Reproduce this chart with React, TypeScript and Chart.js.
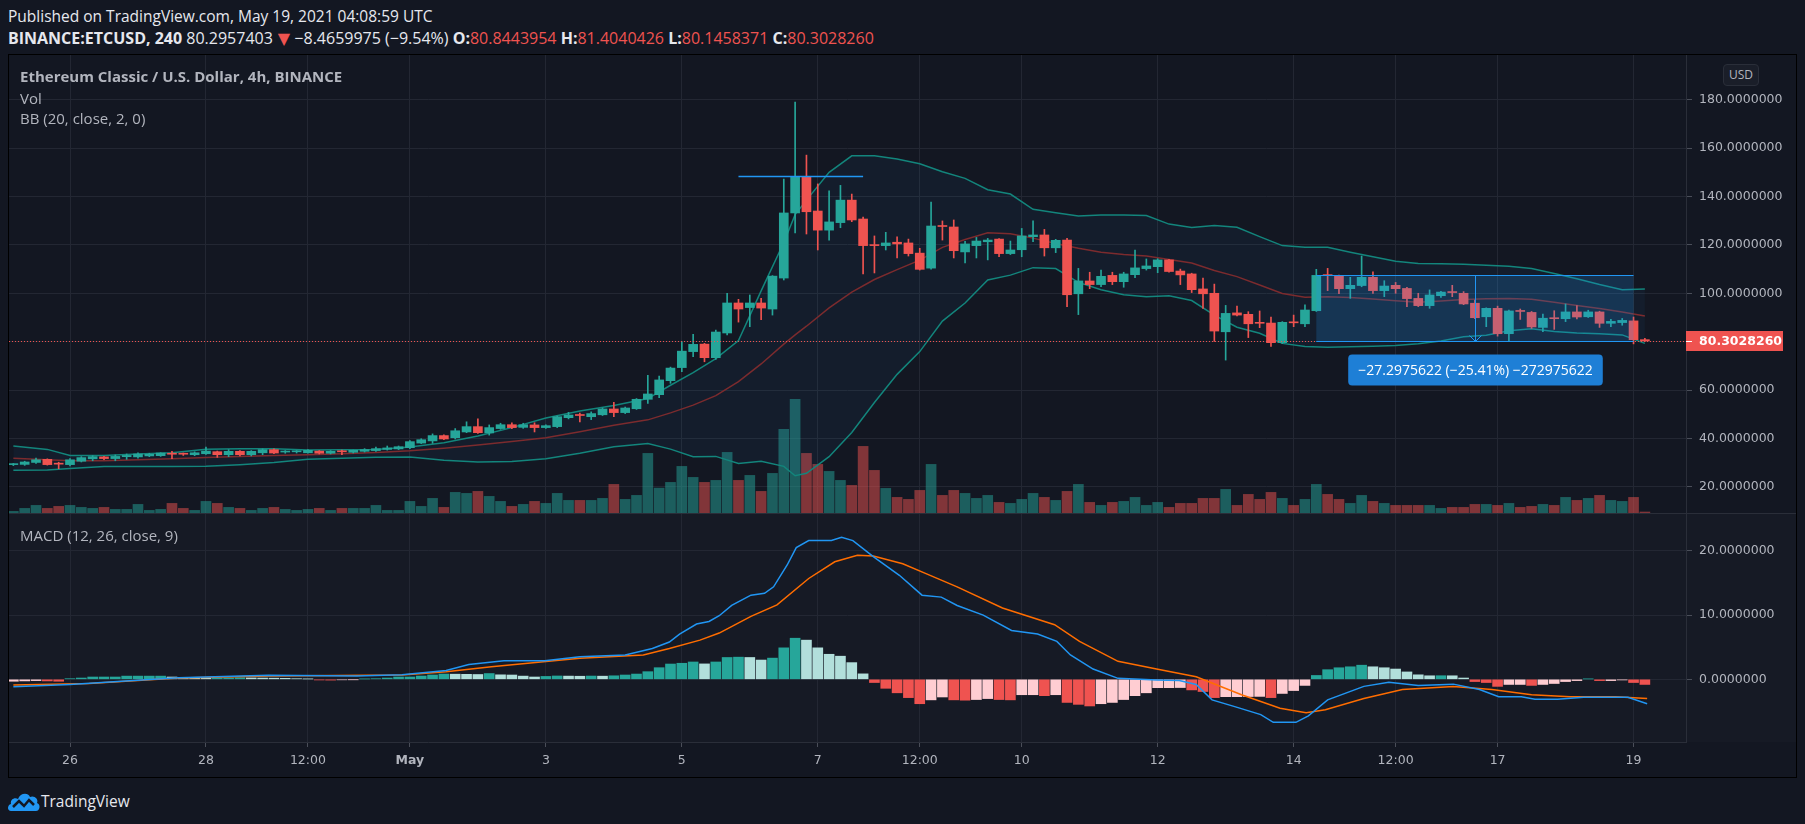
import React, { useEffect, useRef } from 'react';
import { Chart, registerables } from 'chart.js';

Chart.register(...registerables);

const FONT = "'DejaVu Sans', sans-serif";
const UI_FONT = "'Open Sans', 'DejaVu Sans', sans-serif";
const BG = '#131722';
const GRID = '#232733';
const AXIS_LINE = '#2a2e39';
const AXIS_TEXT = '#b2b5be';
const UP = '#26a69a';
const DOWN = '#ef5350';

// ---- 4h candles, BINANCE:ETCUSD, from Apr 25 04:00 to May 19 04:00 (UTC) ----
const opens = [
  29.2, 29.3, 30.1, 31.4, 29.5, 29.2, 30.6, 31.6, 32.4, 31.7,
  32.5, 32.4, 32.8, 32.9, 33.7, 33.7, 33.3, 33.7, 34.55, 33.3,
  34.7, 33.3, 34.1, 35.4, 34.4, 34.5, 34.1, 34.8, 33.9, 34.6,
  34.3, 34.7, 35.0, 35.5, 35.7, 36.2, 38.1, 39.0, 41.2, 40.3,
  42.7, 44.9, 42.3, 44.1, 45.7, 44.6, 45.6, 44.5, 44.9, 48.6,
  49.8, 49.0, 49.8, 52.2, 50.7, 52.3, 56.2, 58.1, 63.9, 69.3,
  75.9, 79.0, 73.4, 83.6, 96.0, 94.1, 96.0, 93.5, 106.3, 133.2,
  148.3, 134.0, 126.1, 129.2, 138.5, 130.7, 119.9, 119.7, 121.1, 120.8,
  116.6, 110.4, 127.8, 127.4, 117.1, 119.7, 121.3, 122.4, 116.4, 118.0,
  123.4, 124.1, 118.8, 122.0, 99.8, 105.1, 103.6, 107.4, 104.8, 107.7,
  110.2, 111.0, 113.8, 109.2, 108.0, 101.8, 100.0, 84.1, 91.9, 91.3,
  87.7, 87.7, 79.6, 87.9, 87.4, 92.8, 107.5, 107.1, 101.9, 103.2,
  106.6, 101.1, 103.3, 102.0, 97.9, 94.9, 99.0, 100.5, 100.0, 95.9,
  90.3, 93.8, 83.3, 92.8, 92.1, 85.9, 89.7, 89.5, 92.3, 90.3,
  92.3, 87.6, 87.9, 88.6, 80.8443954,
];
const highs = [
  29.7, 30.6, 31.9, 31.6, 30.2, 31.7, 32.5, 32.9, 32.6, 33.2,
  33.6, 34.1, 33.9, 34.1, 34.7, 34.0, 34.5, 36.5, 34.8, 35.4,
  35.0, 35.0, 35.7, 35.7, 35.0, 35.0, 35.4, 35.0, 35.0, 35.2,
  35.2, 35.8, 36.5, 36.9, 36.9, 39.1, 39.9, 41.9, 41.5, 44.1,
  46.9, 48.1, 45.6, 46.3, 46.5, 46.3, 46.5, 45.6, 49.3, 50.8,
  50.5, 51.0, 52.6, 54.9, 53.0, 56.5, 66.1, 65.8, 69.5, 80.0,
  83.0, 79.3, 84.8, 100.0, 97.5, 99.3, 97.9, 107.3, 147.2, 179.0,
  157.1, 145.2, 142.3, 144.6, 141.0, 131.5, 123.7, 125.2, 123.3, 122.4,
  118.6, 137.7, 129.9, 130.3, 121.5, 123.1, 122.7, 122.6, 121.6, 126.8,
  129.9, 126.4, 122.3, 122.7, 110.3, 108.7, 109.6, 108.7, 108.7, 117.9,
  114.2, 114.3, 114.0, 110.0, 108.3, 106.3, 103.8, 95.0, 94.7, 92.4,
  92.7, 90.2, 88.3, 91.0, 95.2, 109.9, 110.3, 107.5, 106.6, 115.4,
  108.9, 105.2, 104.5, 102.5, 100.0, 101.4, 100.8, 103.3, 100.7, 97.2,
  94.0, 94.7, 93.1, 93.5, 92.5, 91.4, 92.8, 95.6, 94.9, 93.0,
  92.6, 89.2, 89.6, 90.2, 81.4040426,
];
const lows = [
  28.8, 28.9, 29.7, 29.0, 27.5, 28.7, 30.3, 30.8, 31.2, 30.8,
  31.4, 31.9, 32.5, 32.6, 31.7, 33.0, 32.9, 33.45, 32.2, 32.5,
  32.8, 32.8, 33.3, 33.7, 33.9, 34.0, 33.9, 33.6, 33.6, 33.3,
  34.0, 34.4, 34.7, 35.2, 35.4, 35.8, 37.9, 38.0, 39.5, 39.8,
  42.4, 42.1, 41.4, 43.8, 44.1, 44.2, 42.7, 44.2, 44.5, 48.1,
  46.9, 47.8, 49.5, 49.0, 50.3, 52.0, 54.5, 56.9, 62.8, 67.6,
  73.8, 71.7, 72.7, 82.8, 88.1, 86.2, 89.1, 91.0, 105.5, 124.9,
  124.5, 117.9, 122.0, 127.1, 129.6, 108.0, 108.4, 117.9, 114.6, 115.4,
  109.6, 110.0, 122.0, 114.6, 112.6, 114.6, 113.8, 115.1, 116.0, 115.1,
  121.3, 115.4, 116.8, 94.5, 91.2, 101.9, 102.7, 103.6, 102.5, 106.5,
  109.6, 108.5, 108.7, 103.6, 100.3, 93.8, 80.1, 72.4, 90.7, 81.7,
  85.8, 78.0, 79.2, 86.2, 86.2, 92.5, 101.1, 99.8, 97.9, 102.7,
  100.0, 98.6, 100.0, 94.5, 94.5, 93.8, 98.3, 98.6, 95.3, 89.5,
  86.2, 82.3, 80.3, 89.2, 85.5, 84.1, 85.1, 88.3, 89.4, 90.0,
  85.9, 86.2, 86.8, 79.1, 80.1458371,
];
const closes = [
  29.4, 30.3, 31.2, 29.2, 29.4, 31.2, 32.1, 32.5, 31.7, 32.6,
  33.0, 33.6, 33.5, 34.0, 33.5, 33.5, 34.1, 34.8, 33.3, 34.7,
  33.3, 34.7, 35.4, 34.0, 34.7, 34.6, 35.1, 33.9, 34.7, 34.5,
  35.1, 35.4, 35.8, 36.1, 36.6, 38.7, 39.5, 41.2, 39.8, 43.2,
  44.9, 42.4, 44.5, 45.7, 44.5, 45.7, 44.5, 45.3, 49.0, 49.7,
  49.5, 50.3, 52.2, 50.7, 52.6, 56.2, 58.4, 64.2, 69.1, 76.1,
  78.9, 73.4, 84.0, 96.0, 93.5, 96.0, 93.9, 107.1, 133.2, 148.3,
  133.7, 126.1, 129.5, 138.5, 130.3, 119.7, 119.7, 120.8, 120.4, 116.4,
  109.9, 127.8, 127.6, 117.6, 120.4, 121.6, 122.0, 116.4, 117.9, 123.7,
  124.1, 118.8, 121.9, 99.4, 105.1, 103.6, 107.0, 104.8, 108.0, 110.5,
  111.3, 113.8, 109.0, 107.6, 101.5, 99.8, 84.4, 91.7, 91.0, 87.4,
  87.6, 79.6, 88.0, 87.8, 93.1, 107.4, 107.3, 101.9, 103.3, 106.6,
  101.1, 103.0, 101.9, 97.8, 94.9, 99.3, 100.5, 100.3, 95.6, 89.9,
  93.8, 83.3, 92.7, 92.5, 86.1, 89.7, 89.5, 92.3, 90.2, 92.3,
  87.6, 88.4, 88.8, 80.84, 80.302826,
];
// volume, thousand ETC
const volumes = [
  2.6, 5.6, 8.6, 5.6, 7.6, 8.6, 6.6, 5.6, 6.6, 4.6,
  4.6, 9.6, 3.6, 4.6, 10.6, 5.6, 3.6, 12.6, 10.6, 6.6,
  5.6, 3.6, 5.6, 6.6, 4.6, 3.6, 4.6, 5.6, 3.6, 5.6,
  5.6, 5.6, 8.6, 3.6, 3.6, 12.6, 7.6, 15.6, 6.6, 21.6,
  20.6, 22.6, 17.6, 12.6, 7.6, 9.6, 12.6, 10.6, 20.6, 13.6,
  13.6, 13.6, 15.6, 29.6, 14.6, 18.6, 60.6, 25.9, 31.6, 47.6,
  36.6, 31.6, 33.6, 61.6, 33.6, 38.6, 22.6, 40.6, 84.6, 114.6,
  60.6, 49.6, 42.6, 33.6, 28.6, 67.6, 43.6, 25.6, 16.6, 14.6,
  23.6, 49.6, 18.6, 23.6, 20.6, 15.6, 18.6, 11.6, 10.6, 14.6,
  20.6, 16.6, 13.6, 22.6, 29.6, 11.6, 8.6, 11.6, 12.6, 16.6,
  8.6, 11.6, 6.6, 10.6, 10.6, 15.6, 15.6, 24.6, 8.6, 19.6,
  14.6, 21.6, 15.6, 8.6, 14.6, 29.6, 19.6, 14.6, 10.6, 18.6,
  12.6, 10.6, 8.6, 8.6, 8.6, 8.6, 5.6, 6.6, 6.6, 9.6,
  9.6, 8.6, 10.6, 6.6, 7.6, 9.6, 8.6, 16.6, 13.6, 15.6,
  18.6, 13.6, 12.6, 16.6, 2.0,
];

// ---- Bollinger Bands (20, close, 2) at these candle indices ----
const bbIdx = [
  0, 3, 5, 8, 11, 14, 17, 20, 23, 26, 29, 32, 35, 38, 41, 44, 47, 50, 53, 56,
  58, 60, 62, 64, 66, 68, 69, 70, 72, 74, 76, 78, 80, 82, 84, 86, 88, 90, 92, 94,
  96, 98, 100, 102, 104, 106, 108, 110, 112, 114, 116, 118, 120, 122, 124, 126, 128, 130, 132, 134,
  136, 138, 140, 142, 144,
];
const bbUpper = [
  36.9, 35.5, 33.0, 33.0, 33.6, 34.1, 35.6, 35.8, 35.8, 35.2, 35.3, 35.5, 36.5, 38.2, 41.0, 44.5, 48.5, 51.4, 53.6, 56.5,
  62.0, 67.2, 73.0, 80.5, 101.0, 121.0, 132.5, 138.5, 150.0, 156.8, 156.8, 155.5, 153.5, 150.2, 147.5, 142.8, 141.0, 134.7, 133.3, 131.9,
  132.4, 132.4, 132.1, 128.6, 127.2, 128.0, 127.3, 123.4, 119.7, 119.0, 119.0, 117.0, 115.1, 113.2, 112.3, 112.2, 112.0, 111.6, 111.2, 110.2,
  108.2, 106.0, 103.6, 101.5, 101.8,
];
const bbBasis = [
  31.8, 31.2, 30.8, 30.8, 31.2, 31.6, 32.1, 32.6, 33.0, 33.3, 33.7, 34.2, 34.9, 36.0, 37.3, 38.8, 40.3, 42.8, 45.5, 47.7,
  50.6, 53.8, 57.7, 63.5, 70.8, 79.0, 82.8, 86.4, 94.0, 100.5, 105.7, 109.8, 113.7, 119.0, 122.2, 125.0, 124.6, 122.8, 120.6, 118.6,
  117.0, 116.0, 115.4, 114.0, 112.5, 109.4, 106.9, 103.4, 99.9, 98.4, 98.6, 98.3, 97.6, 96.9, 96.3, 96.8, 97.4, 97.7, 97.9, 97.5,
  96.3, 95.0, 93.7, 92.3, 90.6,
];
const bbLower = [
  26.9, 27.0, 27.6, 28.4, 28.4, 28.4, 28.5, 29.2, 30.1, 31.4, 31.8, 32.2, 32.4, 31.0, 30.3, 30.5, 31.6, 33.9, 36.6, 37.9,
  35.6, 32.5, 32.6, 29.7, 30.6, 28.5, 24.6, 25.6, 32.5, 42.5, 54.9, 66.5, 75.9, 88.5, 96.0, 105.5, 107.5, 110.6, 110.2, 104.5,
  101.5, 99.4, 98.6, 99.0, 97.0, 91.0, 86.0, 83.5, 79.3, 78.0, 77.7, 77.9, 78.1, 78.4, 79.2, 80.3, 82.0, 82.7, 84.5, 85.3,
  84.2, 83.6, 83.3, 82.8, 79.3,
];

// ---- MACD (12, 26, close, 9) ----
const macdIdx = [
  0, 5, 10.6, 14.6, 22.5, 30.3, 34.3, 38.2, 40.2, 43.3, 46.9, 50, 54, 56.4, 57.9, 58.8, 60.3, 61.4, 62.3, 63.4,
  65.1, 66.3, 67.1, 68.3, 69.1, 70.2, 72.2, 73.1, 74.1, 75.9, 78.2, 80.2, 81.9, 83.3, 85.6, 88.1, 90.4, 92.1, 93.3, 95.3,
  97.5, 100.9, 102.9, 104.4, 105.8, 107.8, 110.1, 111.2, 113.2, 114.3, 116, 119.2, 121.4, 124, 127.1, 129.4, 131.1, 133.1, 134.3, 136.3,
  138.6, 142.5, 144.2,
];
const macdVal = [
  -1.15, -0.8, -0.2, 0.26, 0.62, 0.52, 0.73, 1.39, 2.3, 2.9, 2.9, 3.5, 3.8, 4.8, 5.8, 7.05, 8.6, 9.0, 9.9, 11.5,
  13.1, 13.4, 14.4, 17.8, 20.5, 21.6, 21.6, 22.1, 21.6, 19.1, 16.2, 13.1, 12.8, 11.5, 10.0, 7.6, 7.05, 5.9, 3.8, 1.6,
  0.15, -0.1, -0.2, -0.8, -3.2, -4.25, -5.5, -6.7, -6.7, -5.7, -3.2, -1.1, -0.45, -0.95, -0.75, -1.6, -2.7, -2.7, -3.1, -3.1,
  -2.8, -2.8, -3.8,
];
const signalIdx = [
  0, 6.7, 14.6, 22.5, 34.3, 38.2, 42.2, 50, 55.6, 57.9, 60.6, 62.3, 65.1, 67.4, 70.2, 72.5, 74.5, 75.9, 78.5, 80.5,
  83.3, 87.3, 91.9, 94.1, 97.5, 100.9, 104.4, 108.4, 111.8, 114.1, 115.8, 119.2, 122.6, 127.1, 130.5, 134, 137.4, 141.4, 144.2,
];
const signalVal = [
  -0.9, -0.65, 0.2, 0.5, 0.68, 1.18, 1.97, 3.27, 3.8, 4.8, 6.1, 7.2, 9.8, 11.6, 15.7, 18.3, 19.3, 19.2, 18.0, 16.5,
  14.4, 11.1, 8.5, 5.9, 2.8, 1.6, 0.4, -2.4, -4.5, -5.2, -4.75, -3.0, -1.6, -1.1, -1.6, -2.4, -2.7, -2.7, -3.0,
];
const histogram = [
  -0.3, -0.25, -0.2, -0.25, -0.3, 0.1, 0.2, 0.36, 0.36, 0.36,
  0.5, 0.5, 0.5, 0.5, 0.36, 0.3, 0.25, 0.2, 0.2, 0.22,
  0.25, 0.22, 0.2, 0.18, 0.15, 0.1, 0.05, -0.1, -0.12, -0.08,
  -0.05, 0.05, 0.1, 0.2, 0.36, 0.36, 0.51, 0.67, 0.82, 0.8,
  0.78, 0.75, 0.9, 0.7, 0.67, 0.5, 0.36, 0.45, 0.52, 0.5,
  0.48, 0.51, 0.49, 0.55, 0.67, 0.82, 1.19, 1.81, 2.38, 2.5,
  2.7, 2.4, 2.7, 3.4, 3.45, 3.4, 3.0, 3.3, 4.9, 6.4,
  6.1, 4.9, 3.9, 3.6, 2.6, 0.85, -0.5, -1.4, -2.1, -2.85,
  -3.8, -3.2, -2.75, -3.2, -3.25, -3.15, -3.0, -3.15, -3.2, -2.4,
  -2.4, -2.55, -2.4, -3.6, -3.9, -4.15, -3.8, -3.6, -3.15, -2.55,
  -2.1, -1.3, -1.3, -1.28, -1.65, -1.9, -2.85, -2.7, -2.7, -2.68,
  -2.66, -2.85, -2.2, -1.75, -0.95, 0.6, 1.5, 1.8, 1.95, 2.2,
  1.95, 1.8, 1.6, 1.15, 0.7, 0.55, 0.56, 0.55, 0.2, -0.35,
  -0.5, -1.1, -0.8, -0.8, -0.95, -0.8, -0.65, -0.35, -0.2, 0.05,
  -0.2, -0.2, -0.1, -0.5, -0.8,
];

// ---- axes ----
const tickIdx = [5, 17, 26, 35, 47, 59, 71, 80, 89, 101, 113, 122, 131, 143];
const tickLabels = ['26', '28', '12:00', 'May', '3', '5', '7', '12:00', '10', '12', '14', '12:00', '17', '19'];
const priceTicks = [20, 40, 60, 80, 100, 120, 140, 160, 180];
const macdTicks = [0, 10, 20];

// ---- drawings ----
const peakLine = { from: 64, to: 75, value: 148.35 };
const measure = { from: 115, to: 143, top: 107.6003882, bottom: 80.302826, text: '\u221227.2975622 (\u221225.41%) \u2212272975622' };
const lastPriceLabel = '80.3028260';

const X_MIN = -0.384;
const X_MAX = 147.63;
const AXIS_W = 110;

const tickFont = { family: FONT, size: 12.5 };

function candleColor(i) {
  return closes[i] >= opens[i] ? UP : DOWN;
}

function baseX(showLabels) {
  return {
    type: 'linear',
    min: X_MIN,
    max: X_MAX,
    offset: false,
    afterBuildTicks: (s) => {
      s.ticks = tickIdx.map((v) => ({ value: v }));
    },
    afterFit: (s) => {
      s.paddingLeft = 0;
      s.paddingRight = 0;
      if (showLabels) s.height = 35;
    },
    ticks: {
      display: showLabels,
      autoSkip: false,
      maxRotation: 0,
      minRotation: 0,
      padding: 6,
      color: AXIS_TEXT,
      font: (c) => ({ family: FONT, size: 12.5, weight: tickLabels[c.index] === 'May' ? 'bold' : 'normal' }),
      callback: (_v, i) => tickLabels[i],
    },
    grid: { color: GRID, offset: false, drawTicks: showLabels, tickLength: 5, tickColor: '#4a4e59' },
    border: { display: showLabels, color: AXIS_LINE },
  };
}

function baseY(min, max, ticks) {
  return {
    type: 'linear',
    position: 'right',
    min,
    max,
    afterBuildTicks: (s) => {
      s.ticks = ticks.map((v) => ({ value: v }));
    },
    afterFit: (s) => {
      s.width = AXIS_W;
      s.paddingTop = 0;
      s.paddingBottom = 0;
    },
    ticks: {
      color: AXIS_TEXT,
      font: tickFont,
      padding: 7,
      callback: (v) => Number(v).toFixed(7),
    },
    grid: { color: GRID, tickLength: 6, tickColor: '#4a4e59' },
    border: { display: true, color: AXIS_LINE },
  };
}

const priceOverlay = {
  id: 'priceOverlay',
  afterDatasetsDraw(chart) {
    const { ctx, chartArea, scales } = chart;
    const x = scales.x;
    const y = scales.y;
    ctx.save();
    // horizontal drawing at the spike close
    const py = Math.round(y.getPixelForValue(peakLine.value)) + 0.5;
    ctx.strokeStyle = '#2196f3';
    ctx.lineWidth = 1.5;
    ctx.beginPath();
    ctx.moveTo(x.getPixelForValue(peakLine.from), py);
    ctx.lineTo(x.getPixelForValue(peakLine.to), py);
    ctx.stroke();

    // last price dotted line
    const lp = Math.round(y.getPixelForValue(closes[closes.length - 1])) + 0.5;
    ctx.strokeStyle = DOWN;
    ctx.lineWidth = 1;
    ctx.setLineDash([1, 2]);
    ctx.beginPath();
    ctx.moveTo(chartArea.left, lp);
    ctx.lineTo(chartArea.right, lp);
    ctx.stroke();
    ctx.setLineDash([]);

    // price range measurement
    const x1 = x.getPixelForValue(measure.from);
    const x2 = x.getPixelForValue(measure.to);
    const yt = Math.round(y.getPixelForValue(measure.top)) + 0.5;
    const yb = Math.round(y.getPixelForValue(measure.bottom)) + 0.5;
    ctx.fillStyle = 'rgba(33,150,243,0.2)';
    ctx.fillRect(x1, yt, x2 - x1, yb - yt);
    ctx.strokeStyle = '#2196f3';
    ctx.lineWidth = 1;
    ctx.beginPath();
    ctx.moveTo(x1, yt);
    ctx.lineTo(x2, yt);
    ctx.moveTo(x1, yb);
    ctx.lineTo(x2, yb);
    const xm = Math.round((x1 + x2) / 2) + 0.5;
    ctx.moveTo(xm, yt);
    ctx.lineTo(xm, yb);
    ctx.moveTo(xm - 6, yb - 6);
    ctx.lineTo(xm, yb);
    ctx.lineTo(xm + 6, yb - 6);
    ctx.stroke();

    // measurement label
    ctx.font = `14px ${UI_FONT}`;
    const tw = ctx.measureText(measure.text).width;
    const bw = tw + 20;
    const bh = 31;
    const bx = xm - bw / 2;
    const by = yb + 13;
    ctx.fillStyle = '#1e7fd6';
    ctx.beginPath();
    if (ctx.roundRect) ctx.roundRect(bx, by, bw, bh, 4);
    else ctx.rect(bx, by, bw, bh);
    ctx.fill();
    ctx.fillStyle = '#ffffff';
    ctx.textAlign = 'center';
    ctx.textBaseline = 'middle';
    ctx.fillText(measure.text, xm, by + bh / 2 + 1);
    ctx.restore();
  },
  afterDraw(chart) {
    const { ctx, scales } = chart;
    const y = scales.y;
    const lp = y.getPixelForValue(closes[closes.length - 1]);
    ctx.save();
    ctx.fillStyle = DOWN;
    ctx.fillRect(y.left, Math.round(lp) - 10, 97, 20);
    ctx.fillStyle = '#ffffff';
    ctx.fillRect(y.left, Math.round(lp), 6, 1);
    ctx.font = `bold 12.5px ${FONT}`;
    ctx.textAlign = 'left';
    ctx.textBaseline = 'middle';
    ctx.fillText(lastPriceLabel, y.left + 13, Math.round(lp) + 1);
    ctx.restore();
  },
};

function PriceChart() {
  const ref = useRef(null);
  useEffect(() => {
    const idx = opens.map((_, i) => i);
    const chart = new Chart(ref.current, {
      type: 'bar',
      data: {
        datasets: [
          {
            label: 'body',
            data: idx.map((i) => ({ x: i, y: [opens[i], closes[i]] })),
            backgroundColor: idx.map(candleColor),
            barThickness: 9,
            minBarLength: 1,
            grouped: false,
            yAxisID: 'y',
          },
          {
            label: 'wick',
            data: idx.map((i) => ({ x: i, y: [lows[i], highs[i]] })),
            backgroundColor: idx.map(candleColor),
            barThickness: 1,
            grouped: false,
            yAxisID: 'y',
          },
          {
            type: 'line',
            label: 'BB upper',
            data: bbIdx.map((v, i) => ({ x: v, y: bbUpper[i] })),
            borderColor: '#13857c',
            borderWidth: 1.5,
            pointRadius: 0,
            tension: 0,
            yAxisID: 'y',
          },
          {
            type: 'line',
            label: 'BB basis',
            data: bbIdx.map((v, i) => ({ x: v, y: bbBasis[i] })),
            borderColor: '#7c2b2e',
            borderWidth: 1.5,
            pointRadius: 0,
            tension: 0,
            yAxisID: 'y',
          },
          {
            type: 'line',
            label: 'BB lower',
            data: bbIdx.map((v, i) => ({ x: v, y: bbLower[i] })),
            borderColor: '#13857c',
            borderWidth: 1.5,
            pointRadius: 0,
            tension: 0,
            fill: { target: 2 },
            backgroundColor: 'rgba(33,150,243,0.05)',
            yAxisID: 'y',
          },
          {
            label: 'Vol',
            data: idx.map((i) => ({ x: i, y: volumes[i] })),
            backgroundColor: idx.map((i) => (closes[i] >= opens[i] ? 'rgba(38,166,154,0.5)' : 'rgba(239,83,80,0.5)')),
            barThickness: 10,
            grouped: false,
            yAxisID: 'yv',
          },
        ],
      },
      options: {
        responsive: false,
        animation: false,
        events: [],
        layout: { padding: 0 },
        plugins: { legend: { display: false }, tooltip: { enabled: false } },
        scales: {
          x: baseX(false),
          y: baseY(8.8, 198.47, priceTicks),
          yv: { display: false, min: 0, max: 459 },
        },
      },
      plugins: [priceOverlay],
    });
    return () => chart.destroy();
  }, []);
  return <canvas ref={ref} width={1787} height={459} style={{ position: 'absolute', left: 9, top: 55 }} />;
}

function MacdChart() {
  const ref = useRef(null);
  useEffect(() => {
    const histColors = histogram.map((v, i) => {
      const p = i > 0 ? histogram[i - 1] : v;
      if (v >= 0) return v >= p ? '#26a69a' : '#b2dfdb';
      return v < p ? '#ef5350' : '#ffcdd2';
    });
    const chart = new Chart(ref.current, {
      type: 'bar',
      data: {
        datasets: [
          {
            type: 'line',
            label: 'MACD',
            data: macdIdx.map((v, i) => ({ x: v, y: macdVal[i] })),
            borderColor: '#2196f3',
            borderWidth: 1.5,
            pointRadius: 0,
          },
          {
            type: 'line',
            label: 'Signal',
            data: signalIdx.map((v, i) => ({ x: v, y: signalVal[i] })),
            borderColor: '#ff6d00',
            borderWidth: 1.5,
            pointRadius: 0,
          },
          {
            label: 'Histogram',
            data: histogram.map((v, i) => ({ x: i, y: v })),
            backgroundColor: histColors,
            barThickness: 10,
            grouped: false,
          },
        ],
      },
      options: {
        responsive: false,
        animation: false,
        events: [],
        layout: { padding: 0 },
        plugins: { legend: { display: false }, tooltip: { enabled: false } },
        scales: {
          x: baseX(true),
          y: baseY(-9.76, 25.74, macdTicks),
        },
      },
    });
    return () => chart.destroy();
  }, []);
  return <canvas ref={ref} width={1787} height={263} style={{ position: 'absolute', left: 9, top: 514 }} />;
}

const txt = (extra) => ({ position: 'absolute', fontFamily: UI_FONT, whiteSpace: 'nowrap', lineHeight: '20px', ...extra });

export default function App() {
  const white = '#e6e8ee';
  const red = '#ef5350';
  return (
    <div style={{ position: 'absolute', left: 0, top: 0, width: 1805, height: 824, background: BG, overflow: 'hidden' }}>
      <div style={txt({ left: 8, top: 6, fontSize: 15.5, color: white })}>
        Published on TradingView.com, May 19, 2021 04:08:59 UTC
      </div>
      <div style={txt({ left: 8, top: 28, fontSize: 16, color: white })}>
        <b>BINANCE:ETCUSD, 240</b> 80.2957403<span style={{ color: red, marginLeft: 5 }}>▼</span> −8.4659975 (−9.54%){' '}
        <b>O:</b><span style={{ color: red }}>80.8443954</span> <b>H:</b><span style={{ color: red }}>81.4040426</span>{' '}
        <b>L:</b><span style={{ color: red }}>80.1458371</span> <b>C:</b><span style={{ color: red }}>80.3028260</span>
      </div>

      <div style={{ position: 'absolute', left: 9, top: 514, width: 1787, height: 228, background: '#161a25' }} />
      <div style={{ position: 'absolute', left: 8, top: 54, width: 1789, height: 724, border: '1px solid #000', boxSizing: 'border-box' }} />
      <PriceChart />
      <MacdChart />
      <div style={{ position: 'absolute', left: 9, top: 513, width: 1787, height: 1, background: AXIS_LINE }} />

      <div style={txt({ left: 20, top: 66, fontSize: 15, fontWeight: 'bold', color: AXIS_TEXT })}>
        Ethereum Classic / U.S. Dollar, 4h, BINANCE
      </div>
      <div style={txt({ left: 20, top: 88, fontSize: 15, color: AXIS_TEXT })}>Vol</div>
      <div style={txt({ left: 20, top: 108, fontSize: 15, color: AXIS_TEXT })}>BB (20, close, 2, 0)</div>
      <div style={txt({ left: 20, top: 525, fontSize: 15, color: AXIS_TEXT })}>MACD (12, 26, close, 9)</div>

      <div
        style={txt({
          left: 1723, top: 64, width: 36, height: 22, lineHeight: '20px', fontSize: 12, color: AXIS_TEXT,
          textAlign: 'center', border: '1px solid #2a2e39', borderRadius: 4, boxSizing: 'border-box', background: '#1a1e29',
        })}
      >
        USD
      </div>

      <svg width="34" height="22" viewBox="0 0 34 22" style={{ position: 'absolute', left: 7, top: 790 }}>
        <path d="M4 21 C0 21 0 15 4 14 C3 9 8 7 11 9 C13 3 21 2 23 7 C27 5 32 9 30 13 C34 14 33 21 29 21 Z" fill="#2196f3" />
        <path d="M6 17 L12 11 L17 16 L22 10 L27 15" stroke={BG} strokeWidth="2.5" fill="none" />
      </svg>
      <div style={txt({ left: 41, top: 791, fontSize: 15.5, color: white })}>TradingView</div>
    </div>
  );
}
